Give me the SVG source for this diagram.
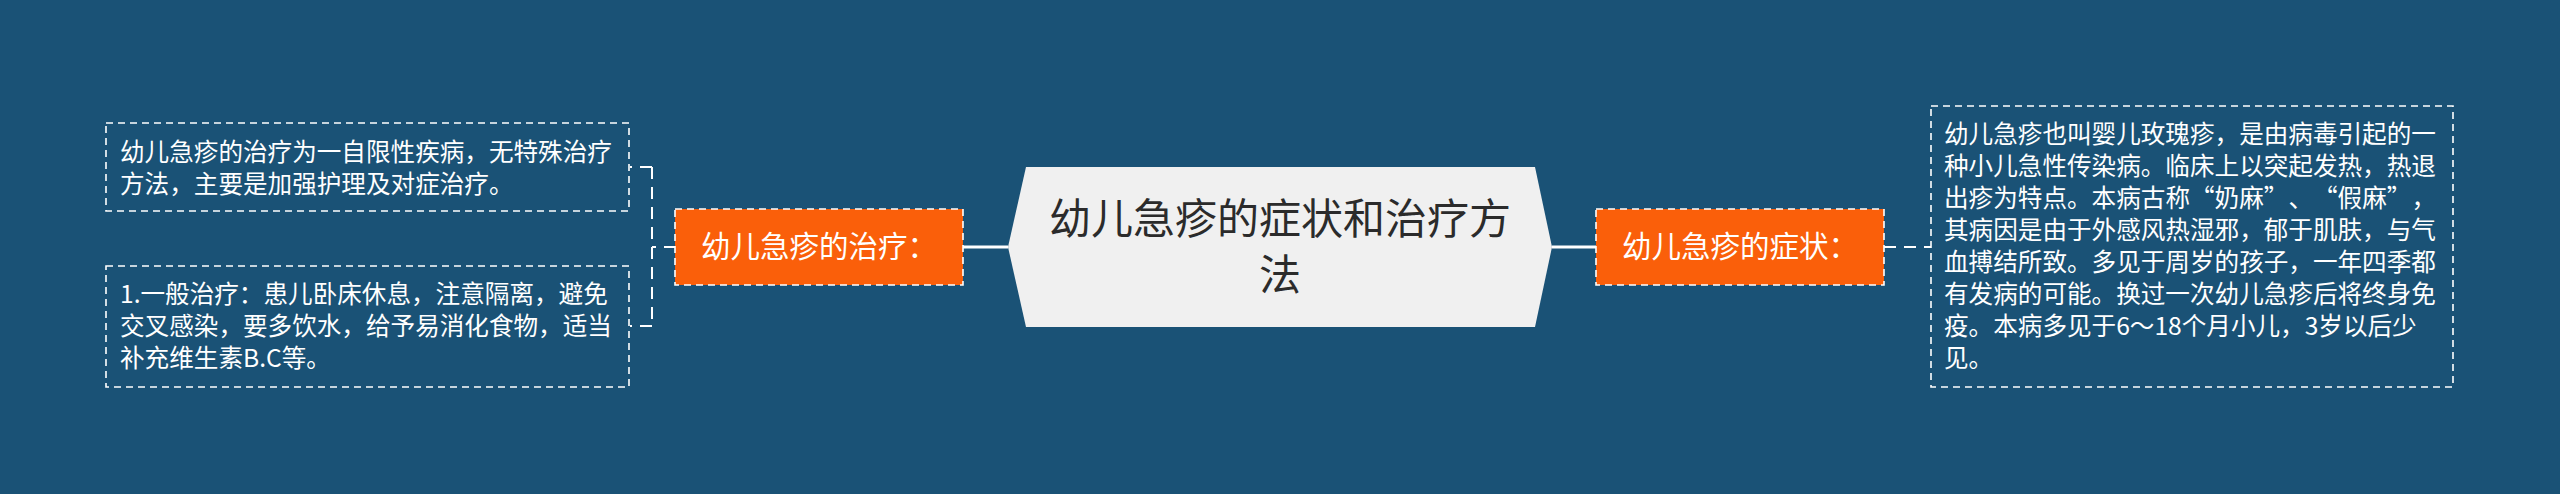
<svg xmlns="http://www.w3.org/2000/svg" width="2560" height="494" viewBox="0 0 2560 494">
<style>
.bg{fill:#1a5276}
.leaf{fill:none;stroke:#ffffff;stroke-width:1.6;stroke-dasharray:7 5}
.sub{fill:#fa5f0a;stroke:#ffffff;stroke-width:1.6;stroke-dasharray:7 5}
.hex{fill:#f0f0f0}
.t{font-family:"Microsoft YaHei","Noto Sans CJK SC",sans-serif}
.lt{fill:#ffffff;font-size:24.6px}
.st{fill:#ffffff;font-size:29.5px}
.ct{fill:#2b2b2b;font-size:42px}
.solid{fill:none;stroke:#ffffff;stroke-width:3}
.dash{fill:none;stroke:#ffffff;stroke-width:2;stroke-dasharray:12 8}
</style>
<rect class="bg" x="0" y="0" width="2560" height="494"/>
<g id="connectors">
<line class="solid" x1="963" y1="247" x2="1008" y2="247"/>
<line class="solid" x1="1552" y1="247" x2="1596" y2="247"/>
<path class="dash" d="M676 247 H652 M652 167 V326 M652 167 H630 M652 326 H630"/>
<line class="dash" x1="1884" y1="247" x2="1931" y2="247"/>
</g>
<g id="center">
<polygon class="hex" points="1008,247 1026,167 1535,167 1552,247 1535,327 1026,327"/>
<text class="t ct" text-anchor="middle" x="1280" y="234">幼儿急疹的症状和治疗方</text>
<text class="t ct" text-anchor="middle" x="1280" y="290">法</text>
</g>
<g id="treatment">
<rect class="sub" x="675" y="209" width="288" height="76"/>
<text class="t st" text-anchor="middle" x="819" y="257">幼儿急疹的治疗：</text>
</g>
<g id="symptoms">
<rect class="sub" x="1596" y="209" width="288" height="76"/>
<text class="t st" text-anchor="middle" x="1740" y="257">幼儿急疹的症状：</text>
</g>
<g id="treat1">
<rect class="leaf" x="106" y="123" width="523" height="88"/>
<text class="t lt" x="120" y="161">幼儿急疹的治疗为一自限性疾病，无特殊治疗</text>
<text class="t lt" x="120" y="193">方法，主要是加强护理及对症治疗。</text>
</g>
<g id="treat2">
<rect class="leaf" x="106" y="266" width="523" height="121"/>
<text class="t lt" x="120" y="303">1.一般治疗：患儿卧床休息，注意隔离，避免</text>
<text class="t lt" x="120" y="335">交叉感染，要多饮水，给予易消化食物，适当</text>
<text class="t lt" x="120" y="367">补充维生素B.C等。</text>
</g>
<g id="symptom1">
<rect class="leaf" x="1931" y="106" width="522" height="281"/>
<text class="t lt" x="1944" y="143">幼儿急疹也叫婴儿玫瑰疹，是由病毒引起的一</text>
<text class="t lt" x="1944" y="175">种小儿急性传染病。临床上以突起发热，热退</text>
<text class="t lt" x="1944 1968.6 1993.2 2017.8 2042.4 2067 2091.6 2116.2 2140.8 2165.4 2190 2214.6 2239.2 2263.8 2288.4 2313 2337.6 2362.2 2386.8 2411.4" y="207">出疹为特点。本病古称“奶麻”、“假麻”，</text>
<text class="t lt" x="1944" y="239">其病因是由于外感风热湿邪，郁于肌肤，与气</text>
<text class="t lt" x="1944" y="271">血搏结所致。多见于周岁的孩子，一年四季都</text>
<text class="t lt" x="1944" y="303">有发病的可能。换过一次幼儿急疹后将终身免</text>
<text class="t lt" x="1944" y="335">疫。本病多见于6～18个月小儿，3岁以后少</text>
<text class="t lt" x="1944" y="367">见。</text>
</g>
</svg>
